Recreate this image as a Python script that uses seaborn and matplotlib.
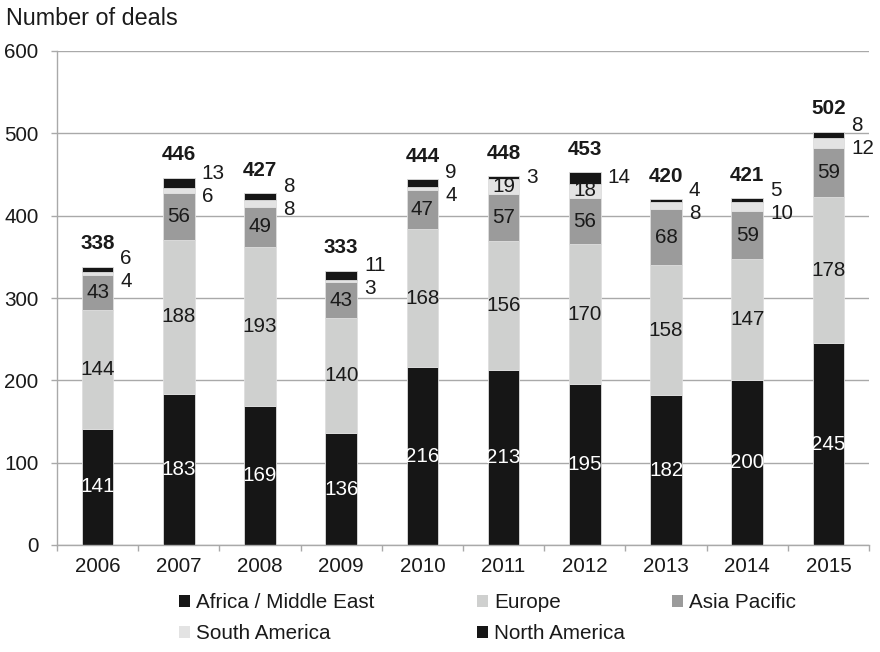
import numpy as np
import matplotlib
matplotlib.use("Agg")
import matplotlib.pyplot as plt
from matplotlib.patches import Patch
from matplotlib.ticker import FixedLocator
import seaborn as sns

# ---- data -------------------------------------------------------------
years = ["2006", "2007", "2008", "2009", "2010",
         "2011", "2012", "2013", "2014", "2015"]
africa_middle_east = [141, 183, 169, 136, 216, 213, 195, 182, 200, 245]
europe = [144, 188, 193, 140, 168, 156, 170, 158, 147, 178]
asia_pacific = [43, 56, 49, 43, 47, 57, 56, 68, 59, 59]
south_america = [4, 6, 8, 3, 4, 19, 18, 8, 10, 12]
north_america = [6, 13, 8, 11, 9, 3, 14, 4, 5, 8]
totals = [338, 446, 427, 333, 444, 448, 453, 420, 421, 502]
y_ticks = [0, 100, 200, 300, 400, 500, 600]

region_names = ["Africa / Middle East", "Europe", "Asia Pacific",
                "South America", "North America"]
region_values = [africa_middle_east, europe, asia_pacific,
                 south_america, north_america]
region_colors = ["#161616", "#cfd0cf", "#9b9b9b", "#e3e3e3", "#161616"]

# ---- style ------------------------------------------------------------
sns.set_theme(style="white")
plt.rcParams["font.family"] = ["Liberation Sans", "DejaVu Sans"]
FS = 14.9
TXT = "#1a1a1a"
GRID = "#a9a9a9"

fig = plt.figure(figsize=(8.8, 6.52), dpi=100)
ax = fig.add_axes([57 / 880, 1 - 545 / 652, 812 / 880, 494 / 652])

BAR_W = 0.39

# ---- stacked bars -----------------------------------------------------
bottom = np.zeros(len(years))
for name, vals, color in zip(region_names, region_values, region_colors):
    sns.barplot(x=years, y=vals, order=years, bottom=bottom.copy(),
                color=color, saturation=1, width=BAR_W, errorbar=None,
                edgecolor="#dedede", linewidth=0.6, ax=ax)
    bottom += np.asarray(vals, dtype=float)

# ---- segment labels ---------------------------------------------------
xs = np.arange(len(years))
base = np.zeros(len(years))
centers = []
for vals in region_values:
    v = np.asarray(vals, dtype=float)
    centers.append(base + v / 2)
    base = base + v

inside_colors = ["white", TXT, TXT]
for k in range(3):
    for i in xs:
        ax.text(i, centers[k][i], str(region_values[k][i]), ha="center",
                va="center", fontsize=FS, color=inside_colors[k])

GAP = 28
edge = BAR_W / 2
for i in xs:
    sa_val = south_america[i]
    c_sa, c_na = centers[3][i], centers[4][i]
    if sa_val >= 15:
        ax.text(i, c_sa, str(sa_val), ha="center", va="center",
                fontsize=FS, color=TXT)
        y_na = c_na
    else:
        if c_na - c_sa < GAP:
            mid = (c_sa + c_na) / 2 + 2
            c_sa, c_na = mid - GAP / 2, mid + GAP / 2
        ax.annotate(str(sa_val), (i + edge, c_sa), xytext=(5, 0),
                    textcoords="offset points", ha="left", va="center",
                    fontsize=FS, color=TXT)
        y_na = c_na
    ax.annotate(str(north_america[i]), (i + edge, y_na), xytext=(5, 0),
                textcoords="offset points", ha="left", va="center",
                fontsize=FS, color=TXT)

for i in xs:
    ax.annotate(str(totals[i]), (i, totals[i]), xytext=(0, 16.5),
                textcoords="offset points", ha="center", va="center",
                fontsize=FS, fontweight="bold", color=TXT)

# ---- axes -------------------------------------------------------------
ax.set_ylim(0, 600)
ax.set_xlim(-0.5, len(years) - 0.5)
ax.set_yticks(y_ticks)
ax.set_yticklabels([str(t) for t in y_ticks])
ax.set_xlabel("")
ax.set_ylabel("")
ax.yaxis.grid(True, color=GRID, linewidth=1.0)
ax.xaxis.grid(False)
ax.set_axisbelow(True)
for side in ("top", "right"):
    ax.spines[side].set_visible(False)
for side in ("left", "bottom"):
    ax.spines[side].set_color(GRID)
    ax.spines[side].set_linewidth(1.0)

ax.xaxis.set_minor_locator(FixedLocator(np.arange(-0.5, len(years), 1.0)))
ax.tick_params(axis="x", which="major", length=0, pad=9.0,
               labelsize=FS, labelcolor=TXT)
ax.tick_params(axis="x", which="minor", length=4.3, width=1.0,
               color=GRID, direction="out", bottom=True)
ax.tick_params(axis="y", which="major", length=4.3, width=1.0, color=GRID,
               direction="out", left=True, pad=9.0, labelsize=FS,
               labelcolor=TXT)

fig.text(6 / 880, 1 - 25 / 652, "Number of deals", ha="left",
         va="baseline", fontsize=16.8, color=TXT)

# ---- legend (three columns) -------------------------------------------
handles = {n: Patch(facecolor=c, edgecolor="none")
           for n, c in zip(region_names, region_colors)}
columns = [(["Africa / Middle East", "South America"], 179),
           (["Europe", "North America"], 477),
           (["Asia Pacific"], 672)]
legends = []
for names, x0 in columns:
    leg = fig.legend([handles[n] for n in names], names, loc="upper left",
                     bbox_to_anchor=(x0 / 880, 1 - 593 / 652),
                     bbox_transform=fig.transFigure, frameon=False,
                     fontsize=FS, borderpad=0, borderaxespad=0,
                     handlelength=0.54, handleheight=0.54,
                     handletextpad=0.27, labelspacing=0.58,
                     labelcolor=TXT)
    legends.append(leg)

fig.savefig("out.png", dpi=100)
